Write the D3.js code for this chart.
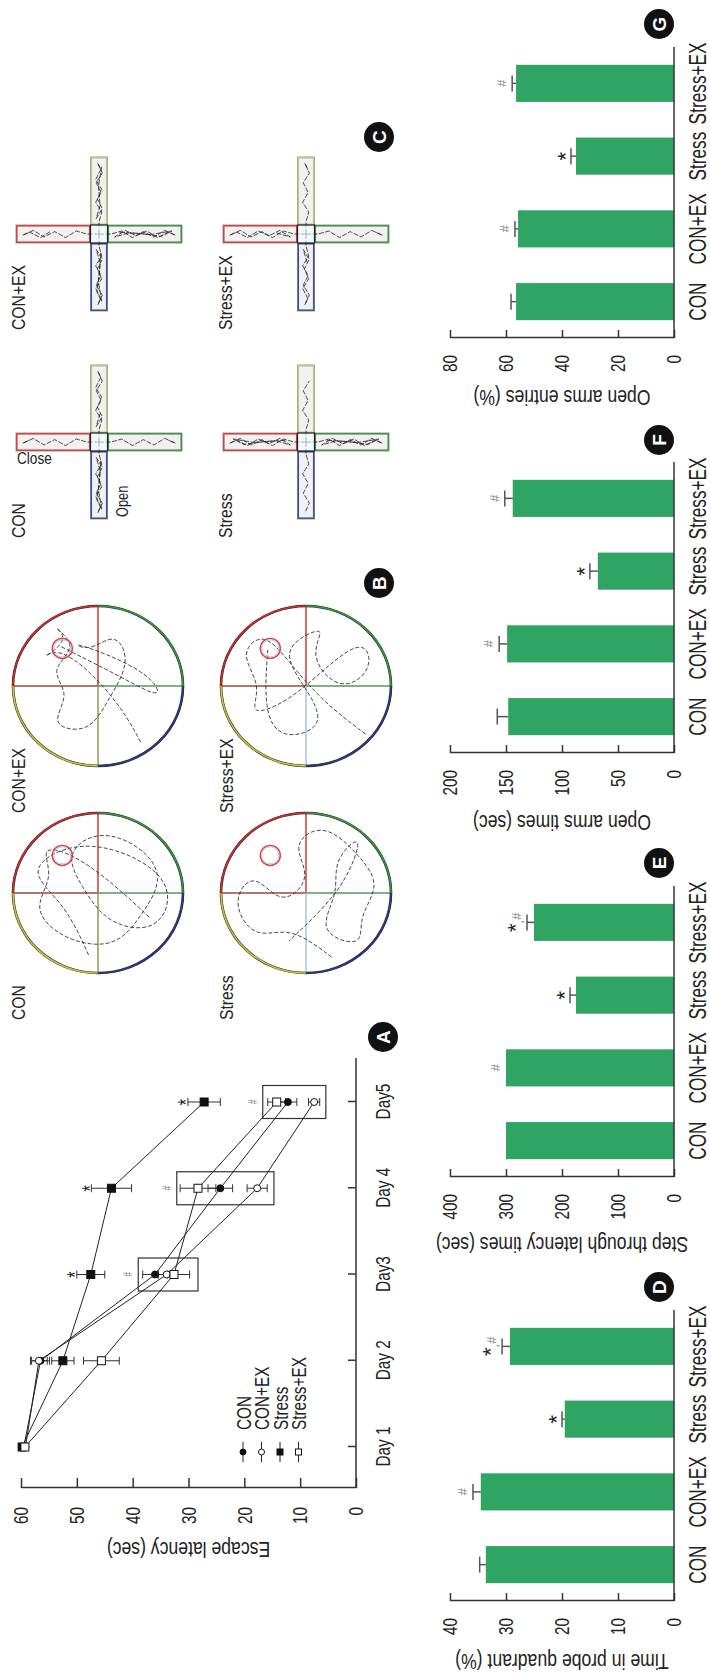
<!DOCTYPE html>
<html><head><meta charset="utf-8">
<script src="https://cdn.jsdelivr.net/npm/d3@7"></script>
<style>
body{margin:0;background:#fff}
svg{display:block}
text{font-family:"Liberation Sans Narrow","Arial Narrow","Liberation Sans",Arial,sans-serif;fill:#222}
</style>
</head><body>
<svg id="c" width="710" height="1676"></svg>
<script>
// ---------------- DATA ----------------
const days = ["Day 1","Day 2","Day3","Day 4","Day5"];
const groups = ["CON","CON+EX","Stress","Stress+EX"];
const latencyTicks = [0,10,20,30,40,50,60];
const conLatency      = [59.5,56.5,36.0,24.3,12.2];
const conLatencyErr   = [0.5,1.6,2.2,2.2,1.6];
const conExLatency    = [59.2,56.8,33.9,17.7,7.5];
const conExLatencyErr = [0.5,1.5,1.6,1.8,1.0];
const stressLatency   = [59.8,52.5,47.5,43.8,27.2];
const stressLatencyErr= [0.4,2.0,2.5,3.6,2.9];
const stressExLatency = [59.3,45.6,32.6,28.3,14.2];
const stressExLatencyErr=[0.5,3.2,2.8,3.2,1.6];
const sigDays = ["Day3","Day 4","Day5"];
const sigBoxHi = [39.0,32.1,16.7];
const sigBoxLo = [28.3,14.7,5.4];

const probeQuadrant = [33.6,34.5,19.5,29.3];
const probeQuadrantErr = [1.1,1.4,0.5,1.4];
const probeTicks = [0,10,20,30,40];
const probeMarks = ["","#","*","*,#"];

const stepLatency = [300,300,175,250];
const stepLatencyErr = [0,0,10.7,12.5];
const stepTicks = [0,100,200,300,400];
const stepMarks = ["","#","*","*,#"];

const openTime = [148,149,68,144];
const openTimeErr = [9.8,7.1,7.1,7.1];
const openTimeTicks = [0,50,100,150,200];
const openTimeMarks = ["","#","*","#"];

const openEntries = [56.4,55.7,35.0,56.4];
const openEntriesErr = [1.8,1.1,1.8,1.4];
const openEntriesTicks = [0,20,40,60,80];
const openEntriesMarks = ["","#","*","#"];

// decorative swim tracks (normalised unit-circle coords)
const trackCON   = [[-0.3,0.6],[0.1,0.2],[0.5,-0.3],[0.6,-0.7],[0.2,-0.5],[-0.2,-0.8],[-0.6,-0.4],[-0.7,0.2],[-0.3,0.5],[0.2,0.8],[0.6,0.5],[0.8,0.0],[0.5,-0.4],[0.1,-0.2],[-0.4,0.1],[-0.5,0.7],[0.0,0.9],[0.4,0.6],[0.7,-0.2],[0.3,-0.9],[-0.1,-0.4],[-0.8,-0.1]];
const trackCONEX = [[-0.7,0.5],[-0.3,0.3],[0.2,-0.1],[0.5,-0.5],[0.3,-0.7],[0.6,-0.3],[0.8,-0.6],[0.5,-0.2],[0.2,-0.6],[-0.1,-0.3],[-0.5,-0.6],[-0.6,-0.1],[-0.2,0.1],[0.3,0.4],[0.7,0.2],[0.4,-0.1],[0.6,-0.4],[0.2,0.6],[-0.2,0.8],[0.1,0.3],[0.5,-0.45]];
const trackStress= [[-0.8,0.3],[-0.4,-0.2],[-0.6,-0.6],[-0.1,-0.9],[0.3,-0.6],[-0.2,-0.3],[0.2,0.1],[0.6,-0.2],[0.9,0.2],[0.5,0.6],[0.1,0.9],[-0.3,0.6],[-0.7,0.7],[-0.5,0.1],[0.0,0.4],[0.4,0.3],[0.8,0.7],[0.2,0.5],[-0.2,0.2],[-0.6,-0.2]];
const trackStressEX=[[-0.6,0.7],[-0.2,0.2],[0.3,-0.2],[0.7,-0.5],[0.4,-0.8],[0.0,-0.5],[-0.4,-0.7],[-0.2,-0.2],[0.3,0.3],[0.6,0.7],[0.2,0.8],[-0.1,0.4],[0.4,0.0],[0.8,0.3],[0.5,-0.3],[0.1,-0.1],[-0.5,0.3],[-0.7,-0.3],[-0.3,-0.5],[0.45,-0.45]];
// decorative plus-maze zigzag pattern (t along arm, s across arm)
const mazePattern = [[0.05,0],[0.2,0.5],[0.35,-0.6],[0.5,0.4],[0.65,-0.5],[0.8,0.6],[0.95,-0.2],[0.85,0.3],[0.7,-0.6],[0.55,0.5],[0.4,-0.3],[0.25,0.6],[0.1,-0.5],[0.3,0.2],[0.6,-0.1],[0.9,0.5],[0.75,-0.4],[0.45,0.1],[0.15,0.3]];
// arm order: open(right), open(left), closed(top), closed(bottom)
const mazeDensity = {"CON":[14,19,8,8],"CON+EX":[16,19,10,19],"Stress":[6,7,19,19],"Stress+EX":[8,14,14,8]};

// ---------------- DRAW ----------------
const FW = 1676; // width of un-rotated figure
const svg = d3.select("#c");
const g = svg.append("g").attr("transform",`translate(0,${FW}) rotate(-90)`);
const AX = "#333";
const GREEN = "#2fa463";

function badge(x,y,letter){
  g.append("circle").attr("cx",x).attr("cy",y).attr("r",15).attr("fill","#111");
  g.append("text").attr("class","wide").attr("x",x).attr("y",y).attr("dy","0.36em").attr("text-anchor","middle")
   .style("font-family","'Liberation Sans',Arial,sans-serif").style("font-weight","bold")
   .style("font-size","19px").style("fill","#fff").text(letter);
}

// ---- Panel A ----
const xA = d3.scalePoint().domain(days).range([229,574]);
const yA = d3.scaleLinear().domain([0,60]).range([356,21]);
const gA = g.append("g");
const axL = gA.append("g").attr("transform","translate(188,0)")
  .call(d3.axisLeft(yA).tickValues(latencyTicks).tickSize(-10).tickSizeOuter(0).tickPadding(19));
axL.selectAll("text").style("font-size","21px").style("font-family",null);
axL.selectAll("path,line").attr("stroke",AX).attr("stroke-width",1.5);
gA.append("line").attr("x1",188).attr("x2",618).attr("y1",356).attr("y2",356).attr("stroke",AX).attr("stroke-width",1.5);
const axB = gA.append("g").attr("transform","translate(0,356)")
  .call(d3.axisBottom(xA).tickSize(-8).tickPadding(19));
axB.select(".domain").remove();
axB.selectAll("line").attr("stroke",AX).attr("stroke-width",1.5);
axB.selectAll("text").style("font-size","21px").style("font-family",null);
gA.append("text").attr("transform",`translate(126,${(yA(0)+yA(60))/2}) rotate(-90)`).attr("data-k",0.8)
  .attr("text-anchor","middle").attr("dy","0.35em").style("font-size","22px").text("Escape latency (sec)");

const series = [
  {name:"CON",vals:conLatency,err:conLatencyErr,shape:"circle",fill:"#111"},
  {name:"CON+EX",vals:conExLatency,err:conExLatencyErr,shape:"circle",fill:"#fff"},
  {name:"Stress",vals:stressLatency,err:stressLatencyErr,shape:"square",fill:"#111"},
  {name:"Stress+EX",vals:stressExLatency,err:stressExLatencyErr,shape:"square",fill:"#fff"}
];
sigDays.forEach((d,i)=>{
  gA.append("rect").attr("x",xA(d)-16.5).attr("width",33).attr("y",yA(sigBoxHi[i]))
    .attr("height",yA(sigBoxLo[i])-yA(sigBoxHi[i])).attr("fill","none").attr("stroke",AX).attr("stroke-width",1.2);
  gA.append("text").attr("x",xA(d)).attr("y",yA(sigBoxHi[i])-10).attr("dy","0.35em").attr("text-anchor","middle")
    .style("font-size","12px").style("font-style","italic").style("fill","#888").text("#");
});
const line = d3.line().x((v,i)=>xA(days[i])).y(v=>yA(v));
series.forEach(s=>{
  gA.append("path").attr("d",line(s.vals)).attr("fill","none").attr("stroke","#222").attr("stroke-width",1);
});
series.forEach(s=>{
  s.vals.forEach((v,i)=>{
    const x = xA(days[i]);
    gA.append("line").attr("x1",x).attr("x2",x).attr("y1",yA(v-s.err[i])).attr("y2",yA(v+s.err[i])).attr("stroke","#333").attr("stroke-width",1);
    [v-s.err[i],v+s.err[i]].forEach(e=>gA.append("line").attr("x1",x-4).attr("x2",x+4).attr("y1",yA(e)).attr("y2",yA(e)).attr("stroke","#333").attr("stroke-width",1));
  });
});
function marker(sel,shape,fill,x,y,sz){
  if(shape==="circle") sel.append("circle").attr("cx",x).attr("cy",y).attr("r",sz/2).attr("fill",fill).attr("stroke","#111").attr("stroke-width",1);
  else sel.append("rect").attr("x",x-sz/2).attr("y",y-sz/2).attr("width",sz).attr("height",sz).attr("fill",fill).attr("stroke","#111").attr("stroke-width",1);
}
series.forEach(s=>{
  s.vals.forEach((v,i)=>marker(gA,s.shape,s.fill,xA(days[i]),yA(v),s.shape==="circle"?7:8));
});
[2,3,4].forEach(i=>{
  gA.append("text").attr("x",xA(days[i])).attr("y",yA(stressLatency[i]+stressLatencyErr[i])-10).attr("dy","0.7em")
    .attr("text-anchor","middle").style("font-size","22px").text("*");
});
series.forEach((s,i)=>{
  const y = 243 + i*18.5;
  gA.append("line").attr("x1",214).attr("x2",234).attr("y1",y).attr("y2",y).attr("stroke","#222").attr("stroke-width",1);
  marker(gA,s.shape,s.fill,224,y,6);
  gA.append("text").attr("x",246).attr("y",y).attr("dy","0.36em").style("font-size","21px").text(s.name);
});
badge(639,383,"A");

// ---- Bar panels ----
function barPanel(x0, vals, errs, ticks, marks, title, titleOff, letter, badgeX){
  const x = d3.scaleBand().domain(groups).range([x0,x0+291]).paddingInner(0.49).paddingOuter(0.245);
  const y = d3.scaleLinear().domain([0,ticks[ticks.length-1]]).range([674,450]);
  const p = g.append("g");
  p.selectAll("rect.bar").data(vals).join("rect").attr("class","bar")
    .attr("x",(d,i)=>x(groups[i])).attr("width",x.bandwidth())
    .attr("y",d=>y(d)).attr("height",d=>674-y(d)).attr("fill",GREEN);
  vals.forEach((v,i)=>{
    if(!errs[i]) return;
    const cx = x(groups[i])+x.bandwidth()/2;
    p.append("line").attr("x1",cx).attr("x2",cx).attr("y1",y(v)).attr("y2",y(v+errs[i])).attr("stroke","#555").attr("stroke-width",1.5);
    p.append("line").attr("x1",cx-8).attr("x2",cx+8).attr("y1",y(v+errs[i])).attr("y2",y(v+errs[i])).attr("stroke","#555").attr("stroke-width",1.5);
  });
  marks.forEach((m,i)=>{
    if(!m) return;
    const cx = x(groups[i])+x.bandwidth()/2;
    const top = y(vals[i]+errs[i]);
    const t = p.append("text").attr("x",cx).attr("y",top-6).attr("text-anchor","middle");
    m.split("").forEach(ch=>{
      if(ch==="*") t.append("tspan").style("font-size","22px").attr("dy", m.length>1?"0.1em":"0.35em").text("*");
      else if(ch===",") t.append("tspan").style("font-size","12px").style("fill","#888").text(",");
      else t.append("tspan").style("font-size","13px").style("font-style","italic").style("fill","#888").attr("dy", m.length>1?"-0.2em":"0").text("#");
    });
  });
  const ax = p.append("g").attr("transform",`translate(${x0},0)`)
    .call(d3.axisLeft(y).tickValues(ticks).tickSize(-8).tickSizeOuter(0).tickPadding(17));
  ax.selectAll("path,line").attr("stroke",AX).attr("stroke-width",1.5);
  ax.selectAll("text").style("font-size","21px").style("font-family",null);
  p.append("line").attr("x1",x0).attr("x2",x0+291).attr("y1",674).attr("y2",674).attr("stroke",AX).attr("stroke-width",1.5);
  groups.forEach(gr=>{
    p.append("text").attr("x",x(gr)+x.bandwidth()/2).attr("y",698).attr("dy","0.36em").attr("text-anchor","middle")
      .attr("data-k",0.75).style("font-size","23px").text(gr);
  });
  p.append("text").attr("transform",`translate(${x0-titleOff},562) rotate(-90)`).attr("text-anchor","middle")
    .attr("data-k",0.8).attr("dy","0.35em").style("font-size","22px").text(title);
  badge(badgeX,659,letter);
}
barPanel(75, probeQuadrant, probeQuadrantErr, probeTicks, probeMarks, "Time in probe quadrant (%)", 61, "D", 389);
barPanel(499, stepLatency, stepLatencyErr, stepTicks, stepMarks, "Step through latency times (sec)", 68, "E", 813);
barPanel(923, openTime, openTimeErr, openTimeTicks, openTimeMarks, "Open arms times (sec)", 70, "F", 1236);
barPanel(1338, openEntries, openEntriesErr, openEntriesTicks, openEntriesMarks, "Open arms entries (%)", 60, "G", 1652);

// ---- Panel B: water maze ----
const pools = [
  {name:"CON",cx:783,cy:98,track:trackCON,lower:"#8f9a55"},
  {name:"CON+EX",cx:990,cy:98,track:trackCONEX,lower:"#8f9a55"},
  {name:"Stress",cx:783,cy:306,track:trackStress,lower:"#a8c0e6"},
  {name:"Stress+EX",cx:990,cy:306,track:trackStressEX,lower:"#a8c0e6"}
];
const RX = 80, RY = 85;
pools.forEach(pl=>{
  const p = g.append("g");
  const sx = d3.scaleLinear().domain([-1,1]).range([pl.cx-RX,pl.cx+RX]);
  const sy = d3.scaleLinear().domain([-1,1]).range([pl.cy-RY,pl.cy+RY]);
  p.append("line").attr("x1",pl.cx).attr("y1",pl.cy).attr("x2",pl.cx+RX).attr("y2",pl.cy).attr("stroke","#d23a3a").attr("stroke-width",1.5);
  p.append("line").attr("x1",pl.cx).attr("y1",pl.cy).attr("x2",pl.cx).attr("y2",pl.cy-RY).attr("stroke","#9b4a3a").attr("stroke-width",1.5);
  p.append("line").attr("x1",pl.cx).attr("y1",pl.cy).attr("x2",pl.cx).attr("y2",pl.cy+RY).attr("stroke","#4f9a5a").attr("stroke-width",1.5);
  p.append("line").attr("x1",pl.cx).attr("y1",pl.cy).attr("x2",pl.cx-RX).attr("y2",pl.cy).attr("stroke",pl.lower).attr("stroke-width",1.5);
  p.append("path").attr("d",d3.line().x(d=>sx(d[0])).y(d=>sy(d[1])).curve(d3.curveBasis)(pl.track))
    .attr("fill","none").attr("stroke","#333").attr("stroke-width",0.9).attr("stroke-dasharray","4,2");
  const quads = [
    {a:[pl.cx,pl.cy-RY],b:[pl.cx+RX,pl.cy],c:"#d42c2c"},
    {a:[pl.cx+RX,pl.cy],b:[pl.cx,pl.cy+RY],c:"#3a9a3a"},
    {a:[pl.cx,pl.cy+RY],b:[pl.cx-RX,pl.cy],c:"#2a3a8f"},
    {a:[pl.cx-RX,pl.cy],b:[pl.cx,pl.cy-RY],c:"#c9c640"}
  ];
  quads.forEach(q=>{
    p.append("path").attr("d",`M${q.a[0]},${q.a[1]} A${RX},${RY} 0 0 1 ${q.b[0]},${q.b[1]}`)
      .attr("fill","none").attr("stroke","#222").attr("stroke-width",2.6);
    p.append("path").attr("d",`M${q.a[0]},${q.a[1]} A${RX},${RY} 0 0 1 ${q.b[0]},${q.b[1]}`)
      .attr("fill","none").attr("stroke",q.c).attr("stroke-width",1.6);
  });
  p.append("circle").attr("cx",sx(0.47)).attr("cy",sy(-0.42)).attr("r",10).attr("fill","none").attr("stroke","#e03a3a").attr("stroke-width",1.4);
  p.append("circle").attr("cx",sx(0.47)).attr("cy",sy(-0.42)).attr("r",8.5).attr("fill","none").attr("stroke","#7fd0e0").attr("stroke-width",0.8);
  p.append("text").attr("x",pl.cx-127).attr("y",pl.cy-80).attr("dy","0.36em").attr("data-k",0.85).style("font-size","18.5px").text(pl.name);
});
badge(1093,379,"B");

// ---- Panel C: plus maze ----
const mazes = [
  {name:"CON",cx:1234,cy:99},
  {name:"CON+EX",cx:1442,cy:99},
  {name:"Stress",cx:1234,cy:306},
  {name:"Stress+EX",cx:1442,cy:306}
];
const HL = 77, HW = 9, VL = 83, VW = 8.5;
mazes.forEach(m=>{
  const p = g.append("g");
  const arms = [
    {x:m.cx+HW, y:m.cy-VW, w:HL-HW, h:2*VW, c:"#c4c48a", dir:[1,0]},
    {x:m.cx-HL, y:m.cy-VW, w:HL-HW, h:2*VW, c:"#3d4c9c", dir:[-1,0]},
    {x:m.cx-HW, y:m.cy-VL, w:2*HW, h:VL-VW, c:"#c8413a", dir:[0,-1]},
    {x:m.cx-HW, y:m.cy+VW, w:2*HW, h:VL-VW, c:"#3f8f3f", dir:[0,1]}
  ];
  arms.forEach((a,k)=>{
    p.append("rect").attr("x",a.x).attr("y",a.y).attr("width",a.w).attr("height",a.h)
      .attr("fill","#f1f1f1").attr("stroke","#999").attr("stroke-width",1);
    p.append("rect").attr("x",a.x+0.8).attr("y",a.y+0.8).attr("width",a.w-1.6).attr("height",a.h-1.6)
      .attr("fill","none").attr("stroke",a.c).attr("stroke-width",1.5);
    const n = mazeDensity[m.name][k];
    const pts = mazePattern.slice(0,n).map(([t,s])=>{
      if(a.dir[1]===0){ const along = HW + t*(HL-HW-3); return [m.cx + a.dir[0]*along, m.cy + s*(VW-3)]; }
      const along = VW + t*(VL-VW-3); return [m.cx + s*(HW-3), m.cy + a.dir[1]*along];
    });
    pts.unshift([m.cx,m.cy]);
    p.append("path").attr("d",d3.line().curve(d3.curveLinear)(pts)).attr("fill","none")
      .attr("stroke","#222").attr("stroke-width",0.8).attr("stroke-dasharray","5,1.5");
  });
  p.append("rect").attr("x",m.cx-HW).attr("y",m.cy-VW).attr("width",2*HW).attr("height",2*VW)
    .attr("fill","#e8f7f8").attr("fill-opacity",0.6).attr("stroke","#222").attr("stroke-width",1.2);
  p.append("text").attr("x",m.cx-96).attr("y",m.cy-81).attr("dy","0.36em").attr("data-k",0.85).style("font-size","18.5px").text(m.name);
});
g.append("text").attr("transform","translate(1210,17) rotate(90)").attr("dy","-0.15em").attr("data-k",0.85).style("font-size","16px").text("Close");
g.append("text").attr("x",1159).attr("y",122).attr("dy","0.35em").attr("data-k",0.8).style("font-size","16px").text("Open");
badge(1539,379,"C");

// condensed look: compress glyphs like a narrow face
g.selectAll("text").each(function(){
  if(this.classList.contains("wide") || this.querySelector("tspan")) return;
  const k = +(this.getAttribute("data-k") || 0.73);
  const L = this.getComputedTextLength();
  d3.select(this).attr("textLength", (L*k).toFixed(1)).attr("lengthAdjust","spacingAndGlyphs");
});
</script>
</body></html>
